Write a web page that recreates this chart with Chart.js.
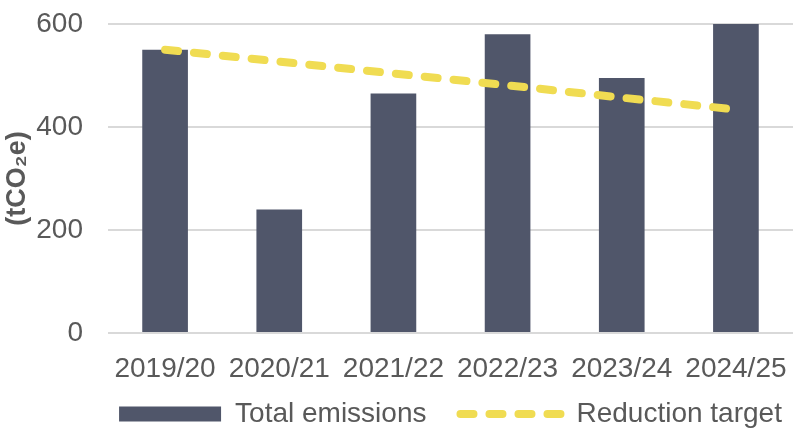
<!DOCTYPE html>
<html><head><meta charset="utf-8">
<script src="https://cdn.jsdelivr.net/npm/chart.js@4/dist/chart.umd.min.js"></script>
<style>html,body{margin:0;padding:0;background:#fff}#wrap{width:804px;height:437px;position:relative}</style>
</head><body><div id="wrap"><canvas id="c"></canvas></div>
<script>
const categories = ['2019/20','2020/21','2021/22','2022/23','2023/24','2024/25'];
const totalEmissions = [550, 240, 465, 580, 495, 600];
const reductionTarget = [550, 527, 504, 481, 457, 434];
const yTickValues = [0, 200, 400, 600];
const seriesNames = ['Total emissions', 'Reduction target'];
const yAxisTitle = '(tCO\u2082e)';

const FONT = '"Liberation Sans", Arial, sans-serif';
const TXT = '#595959';
Chart.defaults.font.family = FONT;

// Centre the legend under the plot area and place it a little higher
const legendPlacer = {
  id: 'legendPlacer',
  afterLayout(chart) {
    const lg = chart.legend, ca = chart.chartArea;
    if (!lg) return;
    const shift = (ca.left + ca.right) / 2 - (lg.left + lg.right) / 2;
    lg.left += shift; lg.right += shift;
    const h = lg.bottom - lg.top;
    lg.top = 366; lg.bottom = 366 + h + 20;
  }
};

new Chart(document.getElementById('c'), {
  type: 'bar',
  plugins: [legendPlacer],
  data: {
    labels: categories,
    datasets: [
      {
        type: 'bar',
        label: seriesNames[0],
        data: totalEmissions,
        backgroundColor: '#50566a',
        borderWidth: 0,
        barPercentage: 0.4,
        categoryPercentage: 1,
        pointStyle: 'rect',
        order: 2
      },
      {
        type: 'line',
        label: seriesNames[1],
        data: reductionTarget,
        borderColor: '#f0dc52',
        backgroundColor: '#f0dc52',
        borderWidth: 8,
        borderDash: [13, 16],
        borderCapStyle: 'round',
        pointRadius: 0,
        pointStyle: 'line',
        fill: false,
        tension: 0,
        order: 1
      }
    ]
  },
  options: {
    responsive: true,
    maintainAspectRatio: false,
    animation: false,
    devicePixelRatio: 1,
    layout: { padding: { top: 24, right: 11, left: 0, bottom: 0 } },
    plugins: {
      tooltip: { enabled: false },
      legend: {
        position: 'bottom',
        fullSize: true,
        maxHeight: 54,
        labels: {
          usePointStyle: true,
          pointStyleWidth: 102,
          boxHeight: 15,
          padding: 34,
          color: TXT,
          font: { size: 28, family: FONT },
          sort: (a, b) => a.datasetIndex - b.datasetIndex,
          generateLabels: (chart) => {
            const items = Chart.defaults.plugins.legend.labels.generateLabels(chart);
            items.forEach(it => {
              const ds = chart.data.datasets[it.datasetIndex];
              if (ds.type === 'line') {
                it.lineDash = ds.borderDash;
                it.lineCap = ds.borderCapStyle;
                it.lineWidth = ds.borderWidth;
                it.strokeStyle = ds.borderColor;
              }
            });
            return items;
          }
        }
      }
    },
    scales: {
      x: {
        grid: { display: false },
        border: { display: false },
        ticks: { color: TXT, font: { size: 28 }, padding: 11, maxRotation: 0, autoSkip: false },
        afterFit: (s) => { s.height = 50; s.paddingLeft = 0; s.paddingRight = 0; }
      },
      y: {
        min: 0,
        max: 600,
        afterBuildTicks: (s) => { s.ticks = yTickValues.map(v => ({ value: v })); },
        grid: { color: '#d9d9d9', lineWidth: 2, drawTicks: false },
        border: { display: false },
        ticks: { color: TXT, font: { size: 28 }, padding: 25 },
        title: { display: true, text: yAxisTitle, color: TXT, font: { size: 27, weight: 'bold' }, padding: { top: 1, bottom: 0 } },
        afterFit: (s) => { s.width = 108; s.paddingTop = 0; s.paddingBottom = 0; }
      }
    }
  }
});
</script>
</body></html>
